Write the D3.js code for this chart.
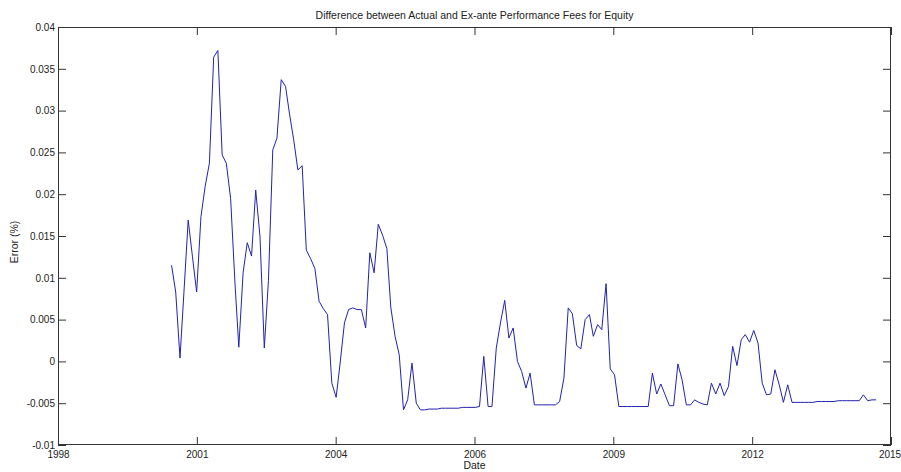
<!DOCTYPE html>
<html>
<head>
<meta charset="utf-8">
<script src="https://cdn.jsdelivr.net/npm/d3@7"></script>
<style>
  body { margin: 0; background: #fff; }
  text { font-family: "Liberation Sans", Arial, sans-serif; }
</style>
</head>
<body>
<div id="chart"></div>
<script>
// Difference between actual and ex-ante performance fees (monthly)

const title = "Difference between Actual and Ex-ante Performance Fees for Equity";
const xTitle = "Date", yTitle = "Error (%)";

// monthly observations, Nov 2000 .. Oct 2014
const firstMonth = new Date(2000, 10, 1),
    lastMonth = new Date(2014, 9, 1);

const errors = [
  0.0115, 0.0083, 0.0004, 0.0090, 0.0169, 0.0125, 0.0083, 0.0173, 0.0209, 0.0237,
  0.0364, 0.0372, 0.0247, 0.0237, 0.0195, 0.0095, 0.0017, 0.0106, 0.0142, 0.0126,
  0.0205, 0.0149, 0.0016, 0.0097, 0.0253, 0.0267, 0.0337, 0.0329, 0.0297, 0.0265,
  0.0229, 0.0234, 0.0133, 0.0123, 0.0111, 0.0072, 0.0063, 0.0056, -0.0026, -0.0043,
  -0.0002, 0.0046, 0.0062, 0.0064, 0.0062, 0.0062, 0.0040, 0.0130, 0.0106, 0.0164,
  0.0151, 0.0135, 0.0065, 0.0030, 0.0008, -0.0058, -0.0046, -0.0002, -0.0050, -0.0058,
  -0.0058, -0.0057, -0.0057, -0.0057, -0.0056, -0.0056, -0.0056, -0.0056, -0.0056, -0.0055,
  -0.0055, -0.0055, -0.0055, -0.0054, 0.0006, -0.0054, -0.0054, 0.0016, 0.0046, 0.0073,
  0.0028, 0.0040, 0.0000, -0.0012, -0.0032, -0.0014, -0.0052, -0.0052, -0.0052, -0.0052,
  -0.0052, -0.0052, -0.0048, -0.0020, 0.0064, 0.0057, 0.0019, 0.0015, 0.0050, 0.0056,
  0.0030, 0.0044, 0.0038, 0.0093, -0.0009, -0.0016, -0.0054, -0.0054, -0.0054, -0.0054,
  -0.0054, -0.0054, -0.0054, -0.0054, -0.0014, -0.0039, -0.0027, -0.0040, -0.0053, -0.0053,
  -0.0003, -0.0022, -0.0052, -0.0052, -0.0046, -0.0049, -0.0051, -0.0052, -0.0026, -0.0039,
  -0.0026, -0.0041, -0.0030, 0.0018, -0.0005, 0.0026, 0.0032, 0.0023, 0.0037, 0.0022,
  -0.0026, -0.0040, -0.0039, -0.0010, -0.0028, -0.0049, -0.0028, -0.0049, -0.0049, -0.0049,
  -0.0049, -0.0049, -0.0049, -0.0048, -0.0048, -0.0048, -0.0048, -0.0048, -0.0047, -0.0047,
  -0.0047, -0.0047, -0.0047, -0.0047, -0.0040, -0.0047, -0.0046, -0.0046
];

// axis limits and tick labels (date ticks are evenly spaced, labelled by year)
const xStart = new Date(1998, 7, 5), xEnd = new Date(2015, 0, 16);
const xTickLabels = ["1998", "2001", "2004", "2006", "2009", "2012", "2015"];
const yTicks = [-0.01, -0.005, 0, 0.005, 0.01, 0.015, 0.02, 0.025, 0.03, 0.035, 0.04];

const width = 901,
    height = 472,
    margin = ({ top: 27, right: 10, bottom: 27, left: 58 });

const months = d3.timeMonth.range(firstMonth, d3.timeMonth.offset(lastMonth, 1));
const data = months.map((d, i) => ({ date: d, value: errors[i] }));

const svg = d3.select("#chart")
  .append("svg")
    .attr("width", width)
    .attr("height", height);

const x = d3.scaleTime()
  .domain([xStart, xEnd])
  .range([margin.left, width - margin.right]);

const y = d3.scaleLinear()
  .domain([-0.01, 0.04])
  .range([height - margin.bottom, margin.top]);

const xTickValues = xTickLabels.map((_, k) =>
  new Date(+xStart + k * (xEnd - xStart) / (xTickLabels.length - 1)));

const tickLen = 8;

// bottom axis, ticks pointing in
svg.append("g")
  .attr("transform", `translate(0,${height - margin.bottom})`)
  .call(d3.axisBottom(x).tickValues(xTickValues)
    .tickFormat((d, i) => xTickLabels[i])
    .tickSizeInner(-tickLen).tickSizeOuter(0).tickPadding(4))
  .call(g => g.select(".domain").remove())
  .call(g => g.selectAll("text").attr("dy", "0.9em"))
  // last label sits on the window edge, keep it inside
  .call(g => g.selectAll("text").filter((d, i) => i === xTickLabels.length - 1)
    .attr("dx", -1.5));

// top ticks
svg.append("g")
  .attr("transform", `translate(0,${margin.top})`)
  .call(d3.axisTop(x).tickValues(xTickValues).tickFormat("")
    .tickSizeInner(-tickLen).tickSizeOuter(0))
  .call(g => g.select(".domain").remove());

// left axis
svg.append("g")
  .attr("transform", `translate(${margin.left},0)`)
  .call(d3.axisLeft(y).tickValues(yTicks)
    .tickFormat(d => String(d))
    .tickSizeInner(-tickLen).tickSizeOuter(0).tickPadding(3))
  .call(g => g.select(".domain").remove())
  .call(g => g.selectAll("text").attr("x", -3));

// right ticks
svg.append("g")
  .attr("transform", `translate(${width - margin.right},0)`)
  .call(d3.axisRight(y).tickValues(yTicks).tickFormat("")
    .tickSizeInner(-tickLen).tickSizeOuter(0))
  .call(g => g.select(".domain").remove());

svg.selectAll(".tick line").attr("stroke", "#333");
svg.selectAll(".tick text")
  .attr("font-family", "Liberation Sans, Arial, sans-serif")
  .attr("font-size", 10)
  .attr("fill", "#222");

// box
svg.append("rect")
  .attr("x", margin.left + 0.5)
  .attr("y", margin.top + 0.5)
  .attr("width", width - margin.left - margin.right - 1)
  .attr("height", height - margin.top - margin.bottom - 1)
  .attr("fill", "none")
  .attr("stroke", "#333");

const line = d3.line()
  .x(d => x(d.date))
  .y(d => y(d.value));

svg.append("path")
  .datum(data)
  .attr("fill", "none")
  .attr("stroke", "#2222b0")
  .attr("stroke-width", 1)
  .attr("stroke-linejoin", "round")
  .attr("d", line);

svg.append("text")
  .attr("x", (margin.left + width - margin.right) / 2)
  .attr("y", 19)
  .attr("text-anchor", "middle")
  .attr("font-size", 10.5)
  .attr("fill", "#222")
  .text(title);

svg.append("text")
  .attr("x", (margin.left + width - margin.right) / 2)
  .attr("y", 469)
  .attr("text-anchor", "middle")
  .attr("font-size", 10.5)
  .attr("fill", "#222")
  .text(xTitle);

svg.append("text")
  .attr("transform", `translate(18,${(margin.top + height - margin.bottom) / 2 + 6}) rotate(-90)`)
  .attr("text-anchor", "middle")
  .attr("font-size", 10.5)
  .attr("fill", "#222")
  .text(yTitle);
</script>
</body>
</html>
